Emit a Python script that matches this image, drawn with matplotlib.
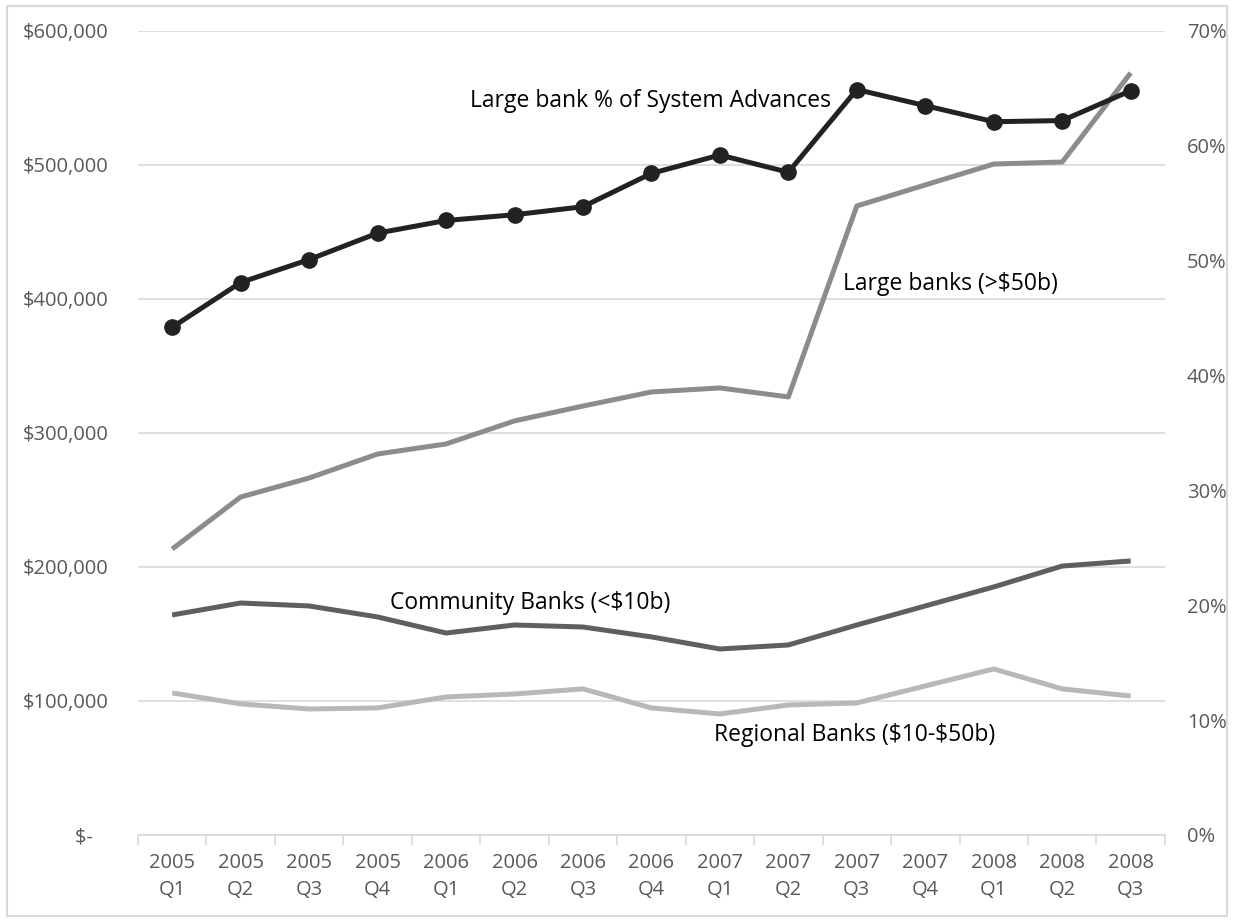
import matplotlib.pyplot as plt
from matplotlib.ticker import FuncFormatter, FixedLocator

plt.rcParams['font.family'] = ['Open Sans', 'DejaVu Sans']
plt.rcParams['text.parse_math'] = False

quarters = ['2005\nQ1', '2005\nQ2', '2005\nQ3', '2005\nQ4',
            '2006\nQ1', '2006\nQ2', '2006\nQ3', '2006\nQ4',
            '2007\nQ1', '2007\nQ2', '2007\nQ3', '2007\nQ4',
            '2008\nQ1', '2008\nQ2', '2008\nQ3']

large_banks = [213400, 252200, 266400, 284300, 291800, 309000, 320100, 330600,
               333600, 326900, 469400, 485100, 500700, 502200, 568700]
community_banks = [164200, 173100, 170900, 162700, 150700, 156700, 155200, 147800,
                   138800, 141800, 156700, 170900, 185100, 200700, 204500]
regional_banks = [106000, 97800, 94000, 94800, 103000, 105200, 109000, 94800,
                  90300, 97000, 98500, 111200, 123900, 109000, 103700]
large_pct = [44.2, 48.1, 50.1, 52.4, 53.5, 54.0, 54.7, 57.6,
             59.2, 57.7, 64.9, 63.5, 62.1, 62.2, 64.8]

grid_c = '#d9d9d9'
tick_c = '#595959'

fig = plt.figure(figsize=(12.34, 9.22), dpi=100)
ax = fig.add_axes([0.1118, 0.0944, 0.8322, 0.872])
x = range(len(quarters))

ax.plot(x, large_banks, color='#8c8c8c', lw=3.6, solid_capstyle='butt', zorder=3)
ax.plot(x, community_banks, color='#5f5f5f', lw=3.6, solid_capstyle='butt', zorder=3)
ax.plot(x, regional_banks, color='#b8b8b8', lw=3.6, solid_capstyle='butt', zorder=3)

ax.set_xlim(-0.5, len(quarters) - 0.5)
ax.set_ylim(0, 600000)
ax.set_yticks(range(0, 600001, 100000))
ax.yaxis.set_major_formatter(FuncFormatter(
    lambda v, p: '$-   ' if v == 0 else f'${v:,.0f}'))
ax.grid(axis='y', color=grid_c, lw=1.2)
ax.set_axisbelow(True)
ax.set_xticks(list(x))
ax.set_xticklabels(quarters, linespacing=1.45)
ax.xaxis.set_minor_locator(FixedLocator([i - 0.5 for i in range(len(quarters) + 1)]))
ax.tick_params(axis='x', which='major', length=0, pad=13, labelsize=14.5, labelcolor=tick_c)
ax.tick_params(axis='x', which='minor', length=7, color=grid_c, width=1.2)
ax.tick_params(axis='y', length=0, pad=21, labelsize=14.5, labelcolor=tick_c)
for s in ['top', 'right', 'left']:
    ax.spines[s].set_visible(False)
ax.spines['bottom'].set_color(grid_c)
ax.spines['bottom'].set_linewidth(1.2)

ax2 = ax.twinx()
ax2.plot(x, large_pct, color='#222222', lw=3.6, marker='o', markersize=11, zorder=4)
ax2.set_ylim(0, 70)
ax2.set_yticks(range(0, 71, 10))
ax2.yaxis.set_major_formatter(FuncFormatter(lambda v, p: f'{v:.0f}%'))
ax2.tick_params(axis='y', length=0, pad=16, labelsize=14.5, labelcolor=tick_c)
for s in ['top', 'right', 'left', 'bottom']:
    ax2.spines[s].set_visible(False)

ax2.text(4.35, 63.9, 'Large bank % of System Advances', fontsize=16.5,
         color='black', va='center', ha='left', zorder=5)
ax.text(9.8, 411200, 'Large banks (>$50b)', fontsize=16.5, va='center', ha='left')
ax.text(3.18, 173100, 'Community Banks (<$10b)', fontsize=16.5, va='center', ha='left')
ax.text(7.91, 74600, 'Regional Banks ($10-$50b)', fontsize=16.5, va='center', ha='left')

fig.patches.append(plt.Rectangle((0.006, 0.006), 0.988, 0.988, transform=fig.transFigure,
                                 fill=False, edgecolor=grid_c, lw=1.5))

fig.savefig('out.png', dpi=100)
